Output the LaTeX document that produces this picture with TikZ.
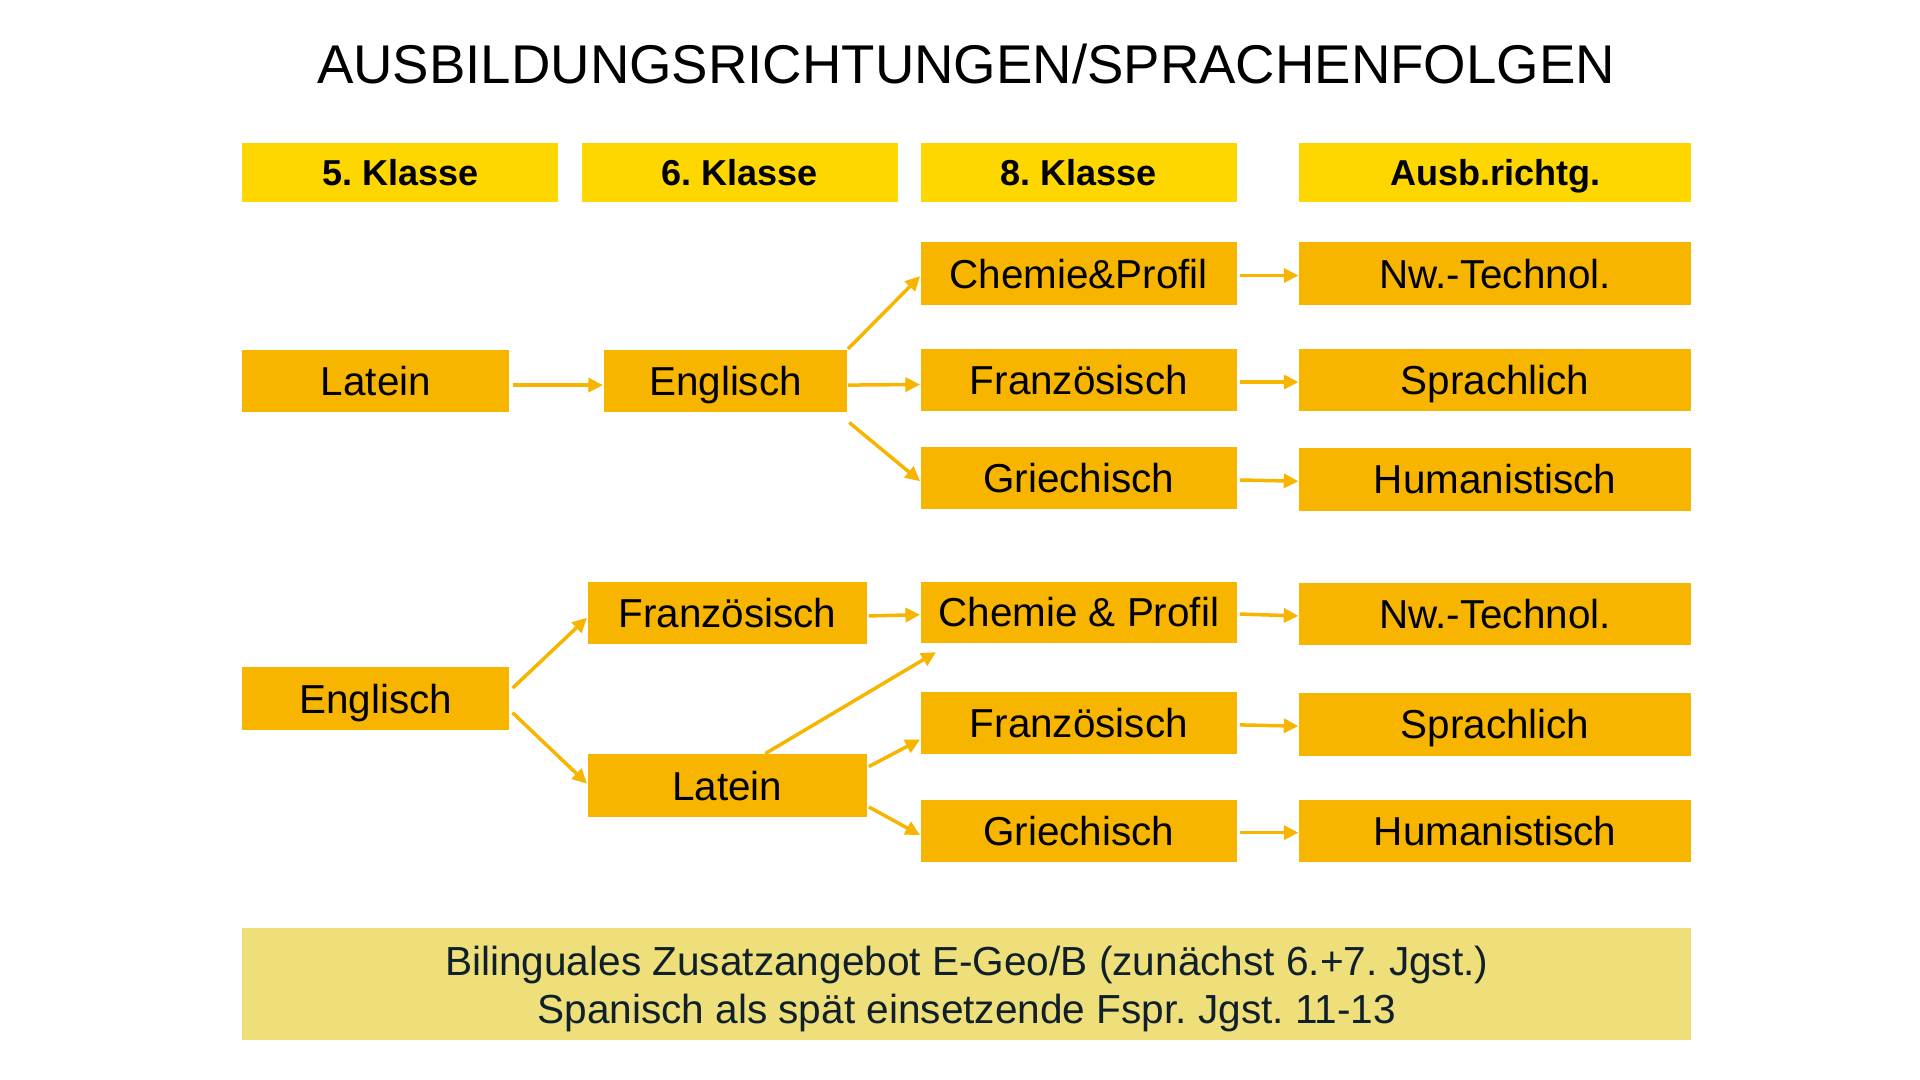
\documentclass[tikz,border=0pt]{standalone}
\usepackage{fontspec}
\setmainfont{Liberation Sans}
\frenchspacing
\usetikzlibrary{arrows.meta}
\definecolor{kopfgelb}{HTML}{FFD700}
\definecolor{fachgelb}{HTML}{F7B500}
\definecolor{hinweisgelb}{HTML}{EEDF7A}
\definecolor{hinweistext}{HTML}{10202A}

\begin{document}
\begin{tikzpicture}
  [
    x=0.35pt, y=-0.35pt,
    >={Triangle[length=4.2pt,width=4pt]},
    kopf/.style  = {fill=kopfgelb, inner sep=0pt, minimum height=48*0.35pt,
                    text height=7.4pt, text depth=0pt,
                    font=\fontsize{10.3}{12}\selectfont\bfseries},
    fach/.style  = {fill=fachgelb, inner sep=0pt, minimum height=51*0.35pt,
                    text height=8.3pt, text depth=0pt,
                    font=\fontsize{11.55}{13}\selectfont},
    pfeil/.style = {->, draw=fachgelb, line width=1pt},
  ]

%One unit of the grid
\def \u{0.35pt}

%Page frame
\useasboundingbox (0,0) rectangle (1568,882);

%Title
\node (titel) at (789,52) {\fontsize{15.6}{18}\selectfont AUSBILDUNGSRICHTUNGEN/SPRACHENFOLGEN};

%Column heads
\foreach \name/\x/\w/\txt in {k5/327/258/5. Klasse, k6/604/258/6. Klasse,
                              k8/881/258/8. Klasse, ka/1221/320/Ausb.richtg.}
{
\node[kopf, minimum width=\w*\u] (\name) at (\x,141) {\txt};
}

%Upper branch: Latein first
\node[fach, minimum width=218*\u] (oLat) at (307,311) {Latein};
\node[fach, minimum width=199*\u] (oEng) at (592.5,311) {Englisch};
\node[fach, minimum width=258*\u] (oChe) at (881,223.5) {Chemie\&Profil};
\node[fach, minimum width=258*\u] (oFra) at (881,310.5) {Französisch};
\node[fach, minimum width=258*\u] (oGri) at (881,390.5) {Griechisch};

%Lower branch: Englisch first
\node[fach, minimum width=218*\u] (uEng) at (307,570.5) {Englisch};
\node[fach, minimum width=228*\u] (uFra) at (594,500.5) {Französisch};
\node[fach, minimum width=228*\u] (uLat) at (594,641.5) {Latein};
\node[fach, minimum width=258*\u, minimum height=50*\u] (uChe) at (881,500) {Chemie \& Profil};
\node[fach, minimum width=258*\u] (uFrz) at (881,590.5) {Französisch};
\node[fach, minimum width=258*\u] (uGri) at (881,678.5) {Griechisch};

%Last column
\foreach \name/\y/\txt in {oNw/223.5/Nw.-Technol., oSp/310.5/Sprachlich, oHu/391.5/Humanistisch,
                           uNw/501.5/Nw.-Technol., uSp/591.5/Sprachlich, uHu/678.5/Humanistisch}
{
\node[fach, minimum width=320*\u] (\name) at (1221,\y) {\txt};
}

%Arrows of the upper branch
\draw[pfeil] ([xshift=2*\u,yshift=-3.5*\u]oLat.east) -- ([yshift=-3.5*\u]oEng.west);
\draw[pfeil] (oEng.north east) -- ([yshift=-2*\u]oChe.west);
\draw[pfeil] ([yshift=-3.5*\u]oEng.east) -- ([yshift=-3.5*\u]oFra.west);
\draw[pfeil] ([xshift=1*\u,yshift=-8*\u]oEng.south east) -- ([yshift=-2.5*\u]oGri.west);

%Arrows of the lower branch
\draw[pfeil] ([xshift=2*\u,yshift=8.5*\u]uEng.east) -- ([yshift=-4*\u]uFra.west);
\draw[pfeil] ([xshift=2*\u,yshift=-11.5*\u]uEng.east) -- ([yshift=1.5*\u]uLat.west);
\draw[pfeil] ([xshift=1*\u,yshift=-2.5*\u]uFra.east) -- ([yshift=-2*\u]uChe.west);
\draw[pfeil] ([xshift=31*\u]uLat.north) -- ([xshift=13*\u,yshift=-7*\u]uChe.south west);
\draw[pfeil] ([xshift=1*\u,yshift=15.5*\u]uLat.east) -- ([yshift=-13.5*\u]uFrz.west);
\draw[pfeil] ([xshift=1*\u,yshift=-17.5*\u]uLat.east) -- ([yshift=-3.5*\u]uGri.west);

%Arrows to the last column
\foreach \a/\b in {oChe/oNw, oFra/oSp, oGri/oHu, uChe/uNw, uFrz/uSp, uGri/uHu}
{
\draw[pfeil] ([xshift=2*\u,yshift=-1.5*\u]\a.east) -- ([yshift=-1.5*\u]\b.west);
}

%Note at the bottom
\node[fill=hinweisgelb, minimum width=1183*\u, minimum height=91*\u, inner sep=0pt,
      align=center, text=hinweistext, font=\fontsize{11.6}{13.7}\selectfont] (hinweis) at (789.5,803.5)
      {\rule{0pt}{11.1pt}Bilinguales Zusatzangebot E-Geo/B (zunächst 6.+7. Jgst.)\\Spanisch als spät einsetzende Fspr. Jgst. 11-13};
\end{tikzpicture}
\end{document}
